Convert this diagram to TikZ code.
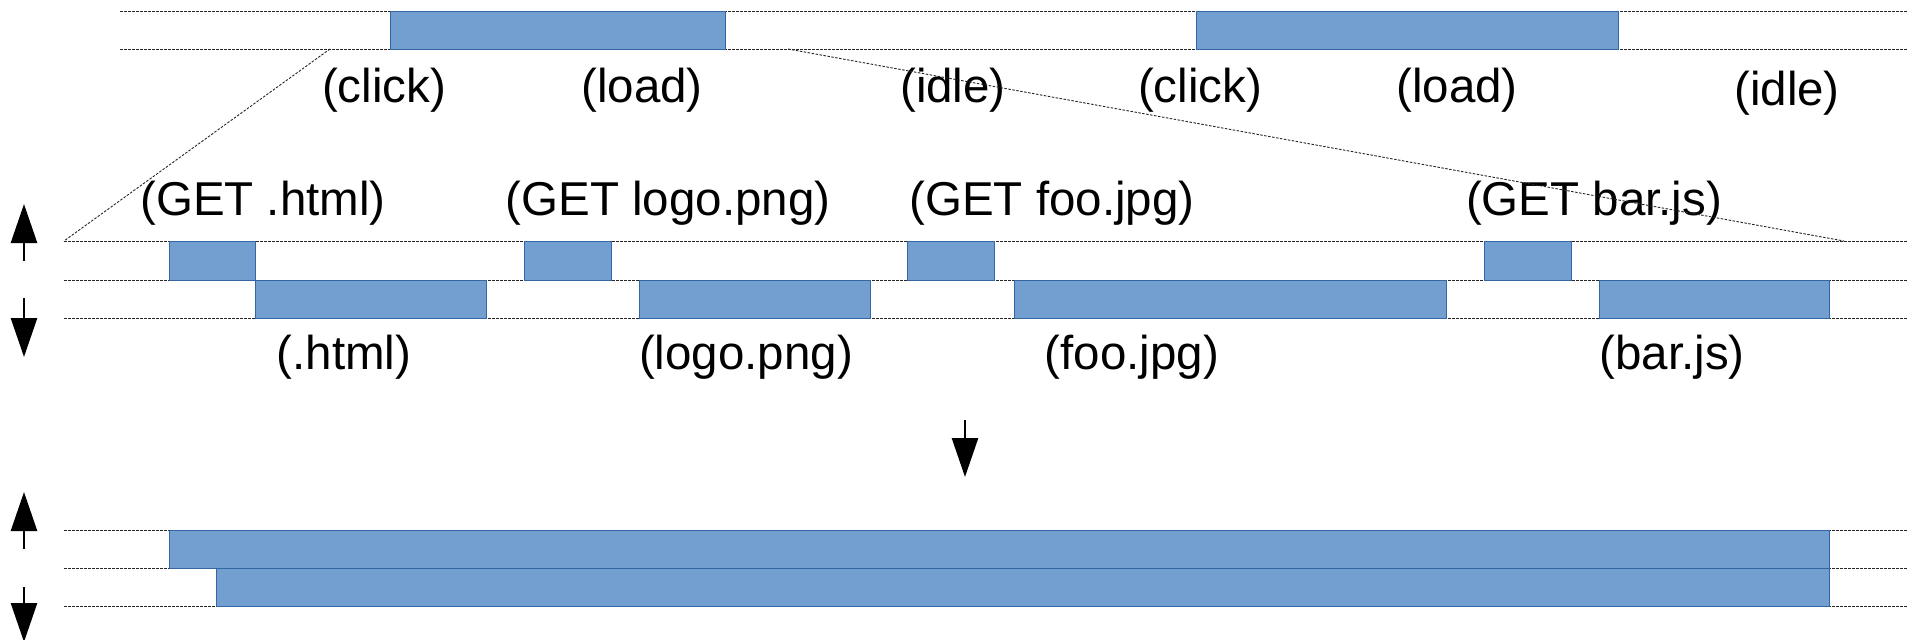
\documentclass[tikz,border=0pt]{standalone}
\usepackage{fontspec}
\setmainfont{Liberation Sans}
\usetikzlibrary{arrows.meta}

\definecolor{barfill}{HTML}{729FCF}
\definecolor{barline}{HTML}{3465A4}

\tikzset{
  bar/.style={fill=barfill, draw=barline, line width=0.9pt},
  guide/.style={draw=black!85, line width=1pt, dash pattern=on 2.5pt off 1.5pt},
  lbl/.style={inner sep=0pt, font=\fontsize{47.5}{56}\selectfont},
  bigarrow/.style={draw=black, line width=2.6pt,
    -{Triangle[length=39pt 0 0,width=26pt 0 0]}}
}

\begin{document}
\begin{tikzpicture}[x=1pt,y=-1pt]
\useasboundingbox (0,0) rectangle (1915,640);

% ---- overview timeline ----
\draw[guide] (120,11) -- (1908,11);
\draw[guide] (120,49) -- (1908,49);
\path[bar] (390,11) rectangle (725,49);
\path[bar] (1196,11) rectangle (1618,49);

\node[lbl] (c1) at (384,90) {(click)};
\node[lbl] (l1) at (642,90) {(load)};
\node[lbl] (i1) at (953,90) {(idle)};
\node[lbl] (c2) at (1200,90) {(click)};
\node[lbl] (l2) at (1457,90) {(load)};
\node[lbl] (i2) at (1787,93) {(idle)};

% ---- request / response detail ----
\draw[guide] (64,241) -- (1908,241);
\draw[guide] (64,280) -- (1908,280);
\draw[guide] (64,318) -- (1908,318);

\path[bar] (169,241) rectangle (255,280);
\path[bar] (524,241) rectangle (611,280);
\path[bar] (907,241) rectangle (994,280);
\path[bar] (1484,241) rectangle (1571,280);

\path[bar] (255,280) rectangle (486,318);
\path[bar] (639,280) rectangle (870,318);
\path[bar] (1014,280) rectangle (1446,318);
\path[bar] (1599,280) rectangle (1829,318);

\node[lbl] (g1) at (263,203) {(GET .html)};
\node[lbl] (g2) at (668,203) {(GET logo.png)};
\node[lbl] (g3) at (1052,203) {(GET foo.jpg)};
\node[lbl] (g4) at (1594,203) {(GET bar.js)};

\node[lbl] (r1) at (344,357) {(.html)};
\node[lbl] (r2) at (746,357) {(logo.png)};
\node[lbl] (r3) at (1132,357) {(foo.jpg)};
\node[lbl] (r4) at (1672,357) {(bar.js)};

% ---- merged connection ----
\draw[guide] (64,530) -- (1908,530);
\draw[guide] (64,568) -- (1908,568);
\draw[guide] (64,606) -- (1908,606);
\path[bar] (169,530) rectangle (1829,568);
\path[bar] (216,568) rectangle (1829,606);

% ---- zoom lines from the first load to the detail view ----
\coordinate (zl0) at (330,49);
\coordinate (zl1) at (64,241);
\coordinate (zr0) at (788,49);
\coordinate (zr1) at (1844,241);
\draw[guide, line width=0.9pt] (zl0) -- (zl1);
\draw[guide, line width=0.9pt] (zr0) -- (zr1);

% ---- direction arrows ----
\coordinate (up1a) at (24,261);
\coordinate (up1b) at (24,204);
\coordinate (dn1a) at (24,298);
\coordinate (dn1b) at (24,357);
\coordinate (mida) at (965,420);
\coordinate (midb) at (965,477);
\coordinate (up2a) at (24,549);
\coordinate (up2b) at (24,492);
\coordinate (dn2a) at (24,587);
\coordinate (dn2b) at (24,642);
\draw[bigarrow] (up1a) -- (up1b);
\draw[bigarrow] (dn1a) -- (dn1b);
\draw[bigarrow] (mida) -- (midb);
\draw[bigarrow] (up2a) -- (up2b);
\draw[bigarrow] (dn2a) -- (dn2b);
\end{tikzpicture}
\end{document}
